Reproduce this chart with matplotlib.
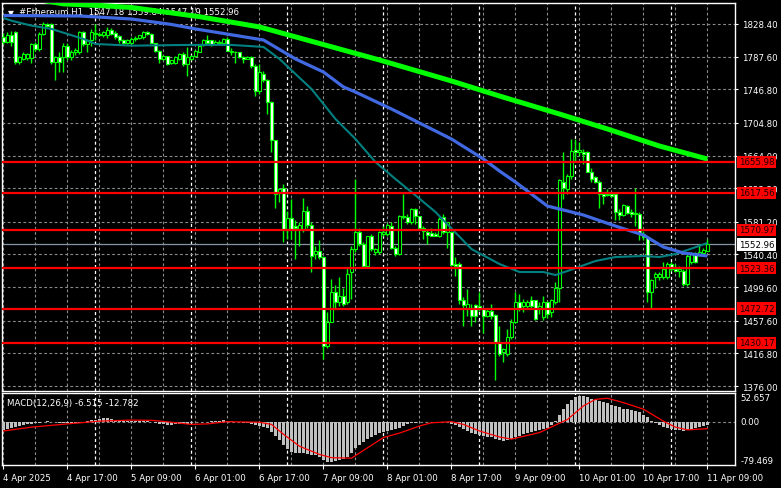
import numpy as np
import matplotlib
matplotlib.use('Agg')
import matplotlib.pyplot as plt
import matplotlib.transforms as mtransforms

# ---------------- data ----------------
opens = [1812, 1806, 1815, 1818, 1781, 1785, 1786, 1786, 1803, 1797, 1816, 1828, 1828, 1781, 1787, 1787, 1801, 1787, 1793, 1793,
         1818, 1803, 1808, 1816, 1816, 1814, 1814, 1821, 1817, 1813, 1808, 1805, 1805,
         1809, 1811, 1812, 1818, 1816, 1805, 1795, 1785, 1788, 1780, 1780, 1785, 1791, 1778, 1785, 1789, 1794, 1802,
         1808, 1808, 1803, 1805, 1805, 1810, 1795, 1794, 1793, 1787, 1785, 1787, 1776, 1745, 1766, 1758, 1731, 1683,
         1618, 1624, 1572, 1586, 1576, 1572, 1572, 1595, 1577, 1541, 1545, 1537, 1426, 1456, 1493, 1481, 1488, 1481,
         1518, 1547, 1568, 1554, 1526, 1563, 1543, 1543, 1566, 1566,
         1576, 1549, 1541, 1588, 1587, 1581, 1597, 1588, 1574, 1569, 1567, 1566, 1563, 1587, 1568, 1568, 1529, 1529,
         1483, 1474, 1472, 1477, 1476, 1472, 1464, 1470, 1465, 1431, 1418, 1416, 1437, 1456,
         1481, 1476, 1476, 1484, 1483, 1472, 1462, 1481, 1468, 1481, 1499, 1631, 1622, 1639, 1671, 1669, 1669, 1668,
         1644, 1637, 1631, 1616, 1615, 1616, 1616, 1594, 1590, 1601, 1593, 1592, 1591, 1566, 1562, 1493, 1512, 1512,
         1512, 1512, 1529, 1522, 1520, 1520, 1504, 1531, 1542, 1540, 1542, 1545.12]
highs = [1817, 1818, 1820, 1820, 1788, 1793, 1792, 1805, 1806, 1818, 1831, 1830, 1830, 1788, 1793, 1805, 1804, 1796, 1798, 1820,
         1820, 1810, 1822, 1828, 1818, 1820, 1824, 1823, 1819, 1814, 1809, 1809, 1812,
         1813, 1815, 1819, 1819, 1817, 1805, 1796, 1790, 1789, 1784, 1788, 1792, 1793, 1799, 1790, 1796, 1803, 1810,
         1815, 1808, 1808, 1808, 1811, 1812, 1798, 1795, 1794, 1788, 1788, 1788, 1778, 1778, 1770, 1760, 1732, 1684,
         1624, 1629, 1595, 1610, 1583, 1581, 1611, 1601, 1581, 1551, 1558, 1539, 1468, 1510, 1502, 1512, 1499, 1524,
         1551, 1635, 1574, 1556, 1564, 1566, 1549, 1570, 1576, 1580,
         1581, 1551, 1590, 1616, 1591, 1599, 1599, 1589, 1576, 1572, 1573, 1568, 1587, 1591, 1581, 1570, 1537, 1531,
         1487, 1497, 1479, 1479, 1493, 1474, 1472, 1479, 1466, 1451, 1424, 1447, 1460, 1493,
         1491, 1485, 1484, 1489, 1482, 1481, 1489, 1482, 1485, 1506, 1635, 1668, 1641, 1685, 1685, 1681, 1672, 1670,
         1649, 1638, 1633, 1618, 1622, 1618, 1617, 1597, 1603, 1602, 1597, 1623, 1593, 1570, 1564, 1510, 1518, 1518,
         1531, 1531, 1531, 1529, 1526, 1522, 1541, 1543, 1544, 1554, 1548, 1559.84]
lows = [1803, 1804, 1801, 1778, 1779, 1783, 1784, 1780, 1795, 1795, 1814, 1825, 1778, 1758, 1768, 1768, 1784, 1784, 1790, 1791,
        1801, 1793, 1801, 1808, 1813, 1812, 1811, 1814, 1810, 1805, 1803, 1803, 1803,
        1807, 1809, 1810, 1815, 1804, 1793, 1780, 1783, 1777, 1778, 1779, 1784, 1776, 1763, 1784, 1787, 1793, 1801,
        1805, 1801, 1802, 1805, 1804, 1795, 1790, 1780, 1786, 1780, 1785, 1774, 1738, 1741, 1756, 1716, 1668, 1599,
        1606, 1556, 1560, 1560, 1535, 1551, 1568, 1574, 1518, 1535, 1535, 1410, 1424, 1456, 1474, 1476, 1476, 1479,
        1485, 1543, 1551, 1524, 1524, 1545, 1540, 1541, 1564, 1564,
        1547, 1539, 1540, 1585, 1579, 1579, 1579, 1572, 1560, 1554, 1563, 1563, 1562, 1566, 1549, 1526, 1514, 1479,
        1451, 1463, 1451, 1456, 1470, 1442, 1462, 1460, 1383, 1414, 1406, 1414, 1435, 1455,
        1470, 1468, 1474, 1474, 1459, 1466, 1459, 1461, 1462, 1479, 1481, 1610, 1616, 1635, 1656, 1664, 1654, 1643,
        1631, 1630, 1599, 1604, 1614, 1612, 1583, 1583, 1588, 1591, 1587, 1576, 1558, 1558, 1481, 1472, 1499, 1508,
        1510, 1510, 1520, 1518, 1512, 1501, 1501, 1529, 1530, 1538, 1540, 1547.19]
closes = [1806, 1814, 1806, 1781, 1787, 1791, 1791, 1803, 1797, 1816, 1828, 1826, 1781, 1787, 1781, 1801, 1787, 1794, 1796, 1818,
          1803, 1808, 1818, 1817, 1815, 1818, 1821, 1816, 1812, 1808, 1805, 1808, 1810,
          1811, 1814, 1818, 1816, 1805, 1795, 1785, 1789, 1778, 1783, 1787, 1791, 1778, 1787, 1789, 1795, 1801, 1808,
          1805, 1802, 1806, 1806, 1810, 1795, 1794, 1793, 1787, 1785, 1787, 1776, 1745, 1768, 1758, 1731, 1683, 1616,
          1622, 1572, 1586, 1572, 1574, 1577, 1595, 1577, 1539, 1545, 1537, 1426, 1456, 1493, 1481, 1488, 1479, 1516,
          1547, 1568, 1554, 1526, 1563, 1547, 1547, 1568, 1568, 1577,
          1549, 1541, 1588, 1587, 1581, 1597, 1589, 1574, 1570, 1565, 1564, 1563, 1585, 1568, 1581, 1527, 1526, 1483,
          1477, 1479, 1463, 1463, 1474, 1464, 1470, 1464, 1431, 1416, 1422, 1437, 1456, 1481,
          1474, 1481, 1481, 1476, 1460, 1476, 1481, 1466, 1483, 1499, 1633, 1624, 1639, 1670, 1669, 1671, 1666, 1644,
          1635, 1631, 1616, 1614, 1616, 1614, 1593, 1590, 1602, 1592, 1591, 1591, 1566, 1562, 1493, 1508, 1516, 1516,
          1522, 1529, 1522, 1520, 1522, 1504, 1539, 1541, 1531, 1543, 1546, 1552.96]

# moving averages, sampled at bar indices
ma_slow_idx = [0, 15, 24, 32, 49, 64, 94, 112, 124, 139, 151, 164, 176]
ma_slow_val = [1866, 1853.5, 1851.5, 1849.0, 1837.5, 1824.7, 1783.4, 1757.2, 1738.4, 1715.9, 1697.2, 1675.9, 1659.7]
ma_mid_idx = [0, 19, 32, 42, 48, 65, 73, 80, 85, 88, 97, 112, 120, 124, 128, 136, 139, 145, 153, 160, 165, 170, 176]
ma_mid_val = [1839.0, 1838.4, 1834.6, 1827.8, 1822.2, 1808.4, 1784.7, 1768.4, 1749.7, 1743.4, 1722.2, 1684.7, 1659.7,
              1644.7, 1630.9, 1600.9, 1597.2, 1589.7, 1575.9, 1564.7, 1549.7, 1542.2, 1538.5]
ma_fast_idx = [0, 2, 7, 12, 16, 20, 23, 32, 46, 57, 65, 69, 77, 83, 88, 93, 98, 102, 108, 117, 124, 129, 135, 138,
               141, 148, 153, 160, 164, 168, 171, 176]
ma_fast_val = [1835.9, 1832.5, 1826.3, 1822.2, 1815.9, 1809.7, 1803.4, 1801.3, 1802.2, 1802.2, 1799.7, 1784.7, 1747.2,
               1709.7, 1684.7, 1655.9, 1634.7, 1618.4, 1593.5, 1547.2, 1528.5, 1518.5, 1518.5, 1514.7, 1519.7, 1532.2,
               1537.2, 1538.5, 1537.2, 1541.0, 1546.0, 1554.7]

levels = [1655.98, 1617.56, 1570.97, 1523.36, 1472.72, 1430.17]
last_price = 1552.96
price_ticks = [1828.40, 1787.60, 1746.80, 1704.80, 1664.00, 1623.20, 1581.20, 1540.40, 1499.60, 1457.60, 1416.80, 1376.00]

macd_hist = [-15, -13, -11, -10, -8, -6, -5, -4, -3, -2, -1, 1, 0, -1, -2, -3, -3, -4, -3, -2,
             -1, 1, 3, 4, 5, 6, 6, 5, 4, 3, 2, 2, 1, 1, 2, 2, 1, 0, -2, -4,
             -5, -6, -6, -5, -5, -5, -4, -2, -1, -1, 0, 0, 1, 2, 2, 3, 2, 1, 0, -1,
             -2, -3, -4, -6, -7, -9, -12, -18, -27, -33, -42, -50, -55, -57, -58, -58, -59, -61, -62, -64,
             -70, -74, -74, -73, -71, -68, -64, -57, -49, -43, -37, -32, -28, -24, -20, -18, -17, -15, -13, -11,
             -8, -5, -3, -2, -1, -1, -1, 0, -1, 0, 0, -1, -4, -6, -9, -13, -17, -20, -23, -25,
             -26, -28, -29, -32, -34, -35, -34, -31, -28, -26, -23, -21, -18, -17, -15, -13, -11, -6, 1, 12,
             23, 32, 40, 46, 47, 47, 45, 42, 40, 38, 36, 34, 31, 29, 27, 24, 23, 22, 20, 17,
             13, 8, 1, -3, -6, -9, -12, -14, -15, -16, -17, -16, -14, -12, -10, -8, -6.515]
signal_idx = [0, 7, 16, 24, 32, 37, 42, 47, 51, 56, 64, 67, 70, 74, 79, 82, 87, 95, 99, 104, 107, 112, 115, 119,
              124, 127, 134, 141, 145, 148, 151, 155, 160, 165, 168, 171, 176]
signal_val = [-17, -10, -4, 1, 3, 2.5, -1, -5, -4, 0, -1, -5, -23, -45, -60, -66, -67, -29, -21, -8, -2, 0, -5, -17,
              -28, -32, -20, 4, 29, 41, 43, 35, 23, 1, -10, -15, -12.782]
macd_top, macd_bottom = 52.657, -79.469

time_idx = [0, 16, 32, 48, 64, 80, 96, 112, 128, 144, 160, 176]
time_labels = ['4 Apr 2025', '4 Apr 17:00', '5 Apr 09:00', '6 Apr 01:00', '6 Apr 17:00', '7 Apr 09:00',
               '8 Apr 01:00', '8 Apr 17:00', '9 Apr 09:00', '10 Apr 01:00', '10 Apr 17:00', '11 Apr 09:00']
day_sep_idx = [23, 47, 71, 95, 119, 143, 167]

# ---------------- figure ----------------
W, H = 781, 489
plt.rcParams['font.family'] = ['DejaVu Sans']
FS = 6.2
fig = plt.figure(figsize=(W / 100, H / 100), dpi=100, facecolor='black')


def px_axes(x0, y0, x1, y1):
    return fig.add_axes([x0 / W, 1 - y1 / H, (x1 - x0) / W, (y1 - y0) / H])


ax = px_axes(2, 4, 735, 392)
ax2 = px_axes(2, 394, 735, 466)

n = len(closes)
xs = np.arange(n)
o = np.array(opens, float); h = np.array(highs, float)
l = np.array(lows, float); c = np.array(closes, float)

xlim = (-0.375, 182.9)
for a in (ax, ax2):
    a.set_facecolor('black')
    a.set_xlim(*xlim)
    for s in a.spines.values():
        s.set_color('white'); s.set_linewidth(1)

ax.set_ylim(1369.8, 1854.6)
ax2.set_ylim(macd_bottom, macd_top)

GRID = '#8a8a8a'
dash = (0, (2.5, 2.2))
# vertical grid every 8 bars + day separators
for a in (ax, ax2):
    for i in range(0, n, 8):
        a.axvline(i, color=GRID, lw=0.8, ls=dash, zorder=1)
    for i in day_sep_idx:
        a.axvline(i, color='white', lw=0.9, ls=dash, zorder=1)
for p in price_ticks:
    ax.axhline(p, color=GRID, lw=0.8, ls=dash, zorder=1)
ax2.axhline(0, color=GRID, lw=0.8, ls=dash, zorder=1)

# candles
bull = c >= o
ax.vlines(xs, l, h, color='#00ff00', lw=1, zorder=3)
body_bot = np.minimum(o, c)
body_h = np.maximum(np.abs(c - o), 0.6)
ax.bar(xs, body_h, bottom=body_bot, width=0.55,
       color=np.where(bull, 'black', 'white'), edgecolor='#00ff00', linewidth=0.8, zorder=4)

# moving averages
ax.plot(ma_fast_idx, ma_fast_val, color='#008080', lw=1.5, zorder=5, solid_capstyle='butt')
ax.plot(ma_mid_idx, ma_mid_val, color='#4169e1', lw=2.3, zorder=5, solid_capstyle='butt')
ax.plot(ma_slow_idx, ma_slow_val, color='#00ff00', lw=3.6, zorder=6, solid_capstyle='butt')

# levels
for lv in levels:
    ax.axhline(lv, color='#ff0000', lw=1.6, zorder=7)
ax.axhline(last_price, color='#8595a6', lw=0.9, zorder=2)

# right axis
ax.yaxis.tick_right()
ax.set_yticks(price_ticks)
ax.set_yticklabels(['%.2f' % p for p in price_ticks])
ax.tick_params(axis='y', colors='white', length=2.2, width=0.8, labelsize=FS, pad=2.5)
ax.tick_params(axis='x', bottom=False, labelbottom=False)

tr = mtransforms.blended_transform_factory(ax.transAxes, ax.transData)
for lv in levels:
    ax.text(1.0055, lv, '%.2f' % lv, transform=tr, va='center', ha='left', fontsize=FS, color='#1a0000',
            bbox=dict(facecolor='#ff0000', edgecolor='none', pad=1.2), zorder=10, clip_on=False)
ax.text(1.0055, last_price, '%.2f' % last_price, transform=tr, va='center', ha='left', fontsize=FS,
        color='black', bbox=dict(facecolor='white', edgecolor='none', pad=1.2), zorder=10, clip_on=False)

# header
ax.text(0.008, 0.987, '\u25bc', transform=ax.transAxes, color='white', fontsize=5.5, va='top', ha='left', zorder=2)
ax.text(0.023, 0.989, '#Ethereum,H1  1547.18 1559.84 1547.19 1552.96', transform=ax.transAxes, color='white',
        fontsize=FS, va='top', ha='left', zorder=2)

# MACD
ax2.bar(xs, macd_hist, width=0.6, color='#c0c0c0', zorder=3)
ax2.plot(signal_idx, signal_val, color='#ff0000', lw=0.9, zorder=4)
ax2.text(0.007, 0.93, 'MACD(12,26,9) -6.515 -12.782', transform=ax2.transAxes, color='white', fontsize=FS,
         va='top', ha='left', zorder=5)
ax2.yaxis.tick_right()
ax2.set_yticks([])
tr2 = mtransforms.blended_transform_factory(ax2.transAxes, ax2.transData)
ax2.text(1.0075, macd_top, '52.657', transform=tr2, color='white', fontsize=FS, va='top', ha='left')
ax2.text(1.0075, 0, '0.00', transform=tr2, color='white', fontsize=FS, va='center', ha='left')
ax2.text(1.0075, macd_bottom, '-79.469', transform=tr2, color='white', fontsize=FS, va='bottom', ha='left')

ax2.set_xticks(time_idx)
ax2.set_xticklabels(time_labels)
ax2.tick_params(axis='x', colors='white', length=3, width=0.8, labelsize=FS, pad=2.5)
for t in ax2.get_xticklabels():
    t.set_ha('left')

fig.savefig('out.png', dpi=100, facecolor='black')
